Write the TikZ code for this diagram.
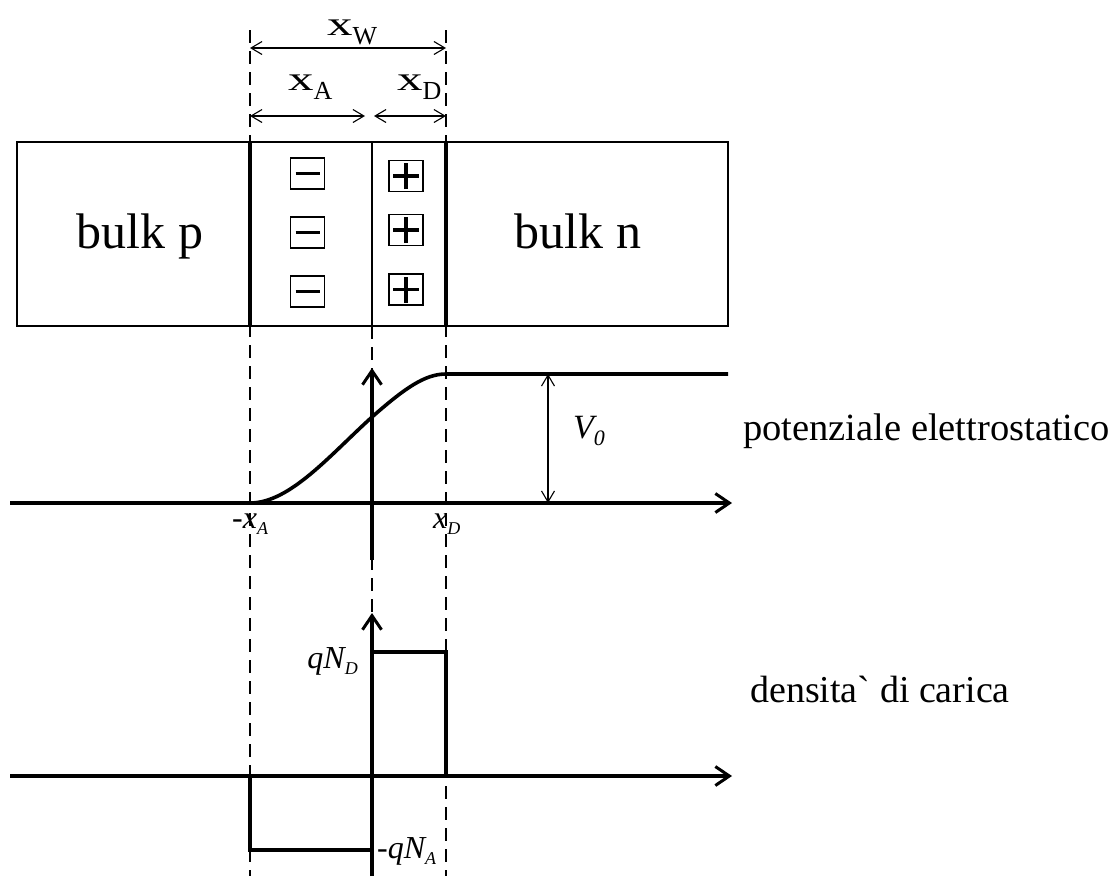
\documentclass[tikz,border=0pt]{standalone}
\usepackage{fontspec}
\setmainfont{Liberation Serif}
\usepackage{graphicx}
\usetikzlibrary{arrows.meta}
\newcommand{\dimx}[1]{\scalebox{1.5}[1]{x}\raisebox{-9pt}{\fontsize{26}{26}\selectfont #1}}
\newcommand{\ilab}[2]{{\itshape #1\raisebox{-6pt}{\fontsize{18}{18}\selectfont #2}}}

\begin{document}
\begin{tikzpicture}[x=1pt,y=-1pt,
  boxline/.style={line width=1.6pt},
  heavy/.style={line width=3.6pt},
  axisline/.style={line width=4pt,-{Straight Barb[length=14pt,width=19pt,line width=3pt]}},
  dimline/.style={line width=1.1pt,{Straight Barb[length=11pt,width=13pt]}-{Straight Barb[length=11pt,width=13pt]}},
  guide/.style={line width=1.2pt,dash pattern=on 13pt off 8pt},
  chgbox/.style={draw,line width=1.8pt,minimum width=34pt,minimum height=31pt,inner sep=0pt},
  acc/.style={chgbox,path picture={\draw[line width=3.2pt] ([xshift=-12pt]path picture bounding box.center)--([xshift=12pt]path picture bounding box.center);}},
  don/.style={chgbox,path picture={\draw[line width=3.2pt] ([xshift=-13pt]path picture bounding box.center)--([xshift=13pt]path picture bounding box.center);
    \draw[line width=3.2pt] ([yshift=-13pt]path picture bounding box.center)--([yshift=13pt]path picture bounding box.center);}},
  lab/.style={inner sep=0pt,font=\fontsize{32}{32}\selectfont}]
\useasboundingbox (0,0) rectangle (1115,876);
% guide lines
\coordinate (gAt) at (250,30);
\coordinate (gAb) at (250,876);
\coordinate (gDt) at (446,30);
\coordinate (gDb) at (446,876);
\coordinate (gOt) at (372,326);
\coordinate (gOb) at (372,876);
\draw[guide] (gAt)--(gAb);
\draw[guide] (gDt)--(gDb);
\draw[guide] (gOt)--(gOb);
% junction
\draw[boxline] (17,142) rectangle (728,326);
\draw[boxline] (372,142)--(372,326);
\draw[heavy] (250,142)--(250,326);
\draw[heavy] (446,142)--(446,326);
\foreach \y/\n in {173.5/1,232.5/2,291.5/3}{\node[acc] (a\n) at (307.5,\y) {};}
\foreach \y/\n in {176/1,230/2,289.5/3}{\node[don] (d\n) at (406,\y) {};}
\node[anchor=base,font=\fontsize{50}{50}\selectfont] (bp) at (140,248) {bulk p};
\node[anchor=base,font=\fontsize{50}{50}\selectfont] (bn) at (578,248) {bulk n};
% widths
\coordinate (wA) at (250,48);
\coordinate (wD) at (446,48);
\coordinate (aA) at (250,116);
\coordinate (aO) at (365,116);
\coordinate (dO) at (374,116);
\coordinate (dD) at (446,116);
\draw[dimline] (wA)--(wD);
\draw[dimline] (aA)--(aO);
\draw[dimline] (dO)--(dD);
\node[anchor=base west,inner sep=0pt,font=\fontsize{34}{34}\selectfont] (lw) at (327,35) {\dimx{W}};
\node[anchor=base west,inner sep=0pt,font=\fontsize{34}{34}\selectfont] (la) at (288,90) {\dimx{A}};
\node[anchor=base west,inner sep=0pt,font=\fontsize{34}{34}\selectfont] (ld) at (397,90) {\dimx{D}};
% potential
\coordinate (p0) at (10,503);
\coordinate (p1) at (732,503);
\coordinate (pv0) at (372,560);
\coordinate (pv1) at (372,368);
\draw[axisline] (p0)--(p1);
\draw[axisline] (pv0)--(pv1);
\draw[heavy,line join=round] (250,503) .. controls (290,503) and (330,455) .. (372,417)
  .. controls (405,388) and (425,374) .. (446,374) -- (728,374);
\coordinate (v0) at (548,374);
\coordinate (v1) at (548,503);
\draw[dimline] (v0)--(v1);
\node[anchor=base west,inner sep=0pt,font=\fontsize{34}{34}\selectfont] (lv) at (573,438) {\itshape V\raisebox{-7pt}{\fontsize{22}{22}\selectfont 0}};
\node[lab,anchor=base west] (lxa) at (232,528) {\ilab{-x}{A}};
\node[lab,anchor=base west] (lxd) at (433,528) {\ilab{x}{D}};
\node[anchor=base west,inner sep=0pt,font=\fontsize{38.5}{38.5}\selectfont] (pot) at (743,440) {potenziale elettrostatico};
% charge density
\coordinate (c0) at (10,776);
\coordinate (c1) at (732,776);
\coordinate (cv0) at (372,876);
\coordinate (cv1) at (372,613);
\draw[axisline] (c0)--(c1);
\draw[axisline] (cv0)--(cv1);
\draw[heavy] (372,652)--(446,652)--(446,776);
\draw[heavy] (250,776)--(250,850)--(372,850);
\node[lab,anchor=base east] (lqd) at (358,668) {\ilab{qN}{D}};
\node[lab,anchor=base west] (lqa) at (377,858) {\ilab{-qN}{A}};
\node[anchor=base west,inner sep=0pt,font=\fontsize{38}{38}\selectfont] (dens) at (750,702) {densita\textasciigrave\ di carica};
\end{tikzpicture}
\end{document}
